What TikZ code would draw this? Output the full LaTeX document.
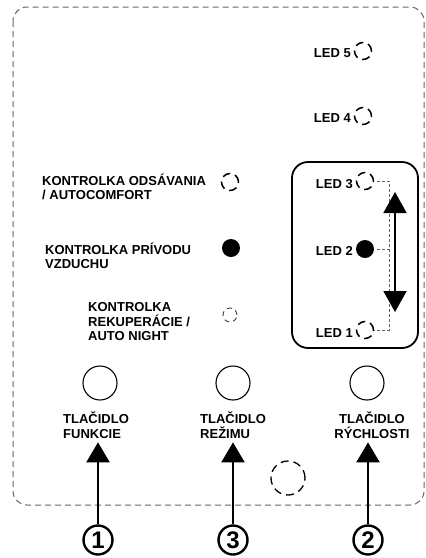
\documentclass[tikz,border=0pt]{standalone}
\usepackage{fontspec}
\setmainfont{Liberation Sans}
\usetikzlibrary{positioning,calc}
\usetikzlibrary{arrows.meta}
\definecolor{PanelGray}{RGB}{100,100,100}
\tikzset{
  lab/.style={inner sep=0pt,font=\bfseries\fontsize{13}{14.5}\selectfont},
  ledoff/.style={circle,draw=black,line width=1.5pt,dash pattern=on 8pt off 5pt,inner sep=0pt,minimum size=17pt},
  ledon/.style={circle,fill=black,inner sep=0pt,minimum size=18pt},
  btn/.style={circle,draw=black,line width=1.1pt,inner sep=0pt,minimum size=34pt},
  num/.style={circle,draw=black,line width=2.4pt,inner sep=0pt,minimum size=29pt,font=\bfseries\fontsize{24}{24}\selectfont},
}
\tikzset{push/.style={line width=2pt,-{Triangle[width=23pt,length=20pt]}},
  bracket/.style={draw=PanelGray,line width=0.8pt,dash pattern=on 3pt off 2pt}}

\begin{document}
\begin{tikzpicture}[x=1pt,y=-1pt]
\useasboundingbox (0,0) rectangle (426,558);
% panel outline
\draw[PanelGray,line width=1pt,dash pattern=on 6pt off 4pt,rounded corners=14pt] (13,7) rectangle (424,505);
% speed group
\draw[line width=1.8pt,rounded corners=16pt] (292,162) rectangle (418,348);
% LEDs
\node[ledoff] (led5c) at (363,51) {};
\node[ledoff] (led4c) at (363,116) {};
\node[ledoff] (led3c) at (365,181) {};
\node[ledon] (led2c) at (365,249) {};
\node[ledoff] (led1c) at (365,330) {};
\node[lab,anchor=east] (led5) at (351,53) {LED 5};
\node[lab,anchor=east] (led4) at (351,118) {LED 4};
\node[lab,anchor=east] (led3) at (353,184) {LED 3};
\node[lab,anchor=east] (led2) at (353,251) {LED 2};
\node[lab,anchor=east] (led1) at (353,333) {LED 1};
\coordinate (brk) at (389,0);
\draw[bracket,shorten <=3pt] (led3c.east) -- (led3c.east -| brk) -- (led1c.east -| brk) -- (led1c.east);
\draw[bracket,shorten <=3pt] (led2c.east) -- (led2c.east -| brk);
\coordinate (spdtop) at (395,192);
\coordinate (spdbot) at (395,312);
\draw[line width=1.8pt,{Triangle[width=23pt,length=21pt]}-{Triangle[width=23pt,length=21pt]}] (spdtop) -- (spdbot);
% indicators
\node[ledoff] (odsc) at (230,182) {};
\node[ledon] (privc) at (231,248) {};
\node[ledoff,line width=0.9pt,draw=black!75,minimum size=14pt,dash pattern=on 5pt off 4pt] (rekc) at (230,315) {};
\node[lab,anchor=west,align=left] (ods) at (42,187) {KONTROLKA ODSÁVANIA\\/ AUTOCOMFORT};
\node[lab,anchor=west,align=left] (priv) at (45,256) {KONTROLKA PRÍVODU\\VZDUCHU};
\node[lab,anchor=west,align=left] (rek) at (88,322) {KONTROLKA\\REKUPERÁCIE /\\AUTO NIGHT};
% buttons
\node[btn] (b1) at (100,383) {};
\node[btn] (b3) at (233,383) {};
\node[btn] (b2) at (367,383) {};
\node[lab,anchor=west,align=left] (b1lab) at (63,425) {TLAČIDLO\\FUNKCIE};
\node[lab,anchor=west,align=left] (b3lab) at (200,425) {TLAČIDLO\\REŽIMU};
\node[lab,align=center] (b2lab) at (372,425) {TLAČIDLO\\RÝCHLOSTI};
\node[ledoff,line width=1.3pt,minimum size=34pt,dash pattern=on 8pt off 5pt] (spare) at (288,478) {};
% numbers
\node[num] (n1) at (98,540) {1};
\node[num] (n3) at (233,540) {3};
\node[num] (n2) at (368,540) {2};
\draw[push] (n1.north) -- ([yshift=-4pt]n1.north |- b1lab.south);
\draw[push] (n3.north) -- ([yshift=-4pt]n3.north |- b3lab.south);
\draw[push] (n2.north) -- ([yshift=-4pt]n2.north |- b2lab.south);
\end{tikzpicture}
\end{document}
